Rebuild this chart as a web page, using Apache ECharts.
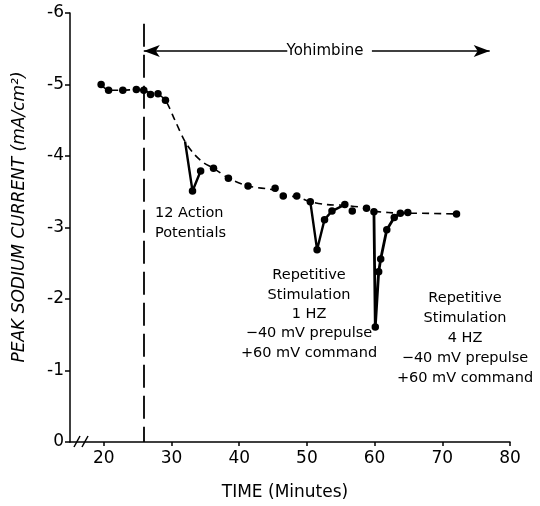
<!DOCTYPE html>
<html><head><meta charset="utf-8">
<script src="https://cdn.jsdelivr.net/npm/echarts@6/dist/echarts.min.js"></script>
<style>html,body{margin:0;padding:0;background:#fff}#c{width:540px;height:506px}</style>
</head><body><div id="c"></div>
<script>
// ---- data ----
const xTicks = [20, 30, 40, 50, 60, 70, 80];
const yTicks = [-6, -5, -4, -3, -2, -1, 0];
const measuredPoints = [
  [19.6,-5.00],[20.7,-4.92],[22.8,-4.92],[24.8,-4.93],[25.9,-4.92],[26.9,-4.86],[28.0,-4.87],[29.1,-4.78],
  [33.1,-3.51],[34.3,-3.79],[36.2,-3.83],[38.4,-3.69],[41.3,-3.58],[45.3,-3.55],[46.5,-3.44],[48.5,-3.44],[50.5,-3.36],
  [51.5,-2.69],[52.6,-3.11],[53.7,-3.23],[55.6,-3.32],[56.7,-3.23],[58.8,-3.27],[59.9,-3.22],
  [60.1,-1.61],[60.6,-2.38],[60.9,-2.56],[61.8,-2.97],[62.9,-3.14],[63.8,-3.20],[64.9,-3.21],[72.1,-3.19]
];
const trendCurve = [
  [19.6,-5.00],[20.7,-4.92],[22.8,-4.92],[24.8,-4.93],[25.9,-4.92],[26.9,-4.88],[28.0,-4.86],[29.1,-4.78],
  [30.5,-4.50],[32.0,-4.20],[33.3,-4.03],[34.8,-3.90],[36.2,-3.83],[38.4,-3.69],[41.3,-3.58],[45.3,-3.52],
  [46.5,-3.44],[48.5,-3.43],[50.5,-3.36],[53.0,-3.32],[55.6,-3.31],[58.8,-3.27],[59.9,-3.23],[62.0,-3.21],
  [63.8,-3.20],[64.9,-3.20],[72.1,-3.19]
];
const dip12AP = [[32.0,-4.20],[33.1,-3.51],[34.3,-3.79]];
const dip1Hz = [[50.5,-3.36],[51.5,-2.69],[52.6,-3.11],[53.7,-3.23],[55.6,-3.32]];
const dip4Hz = [[59.9,-3.22],[60.1,-1.61],[60.6,-2.38],[60.9,-2.56],[61.8,-2.97],[62.9,-3.14],[63.8,-3.20]];
const drugStart = 25.9;      // yohimbine added (minutes)
const drugLineTop = -5.85;
const drugArrowY = -5.47;
const drugArrowEnd = 77.0;
const drugArrowGap = [47.1, 59.6];

// ---- chart ----
const FONT = 'DejaVu Sans';
const chart = echarts.init(document.getElementById('c'), null, {renderer: 'canvas'});
const dipStyle = {color: '#000', width: 2.4};
chart.setOption({
  animation: false,
  backgroundColor: '#fff',
  grid: {left: 70, right: 30, top: 13, bottom: 64},
  xAxis: {
    type: 'value', min: 15, max: 80,
    axisLine: {show: true, lineStyle: {color: '#000', width: 1.5}},
    axisTick: {show: true, length: 4, customValues: xTicks, lineStyle: {color: '#000', width: 1.5}},
    axisLabel: {customValues: xTicks, color: '#000', fontFamily: FONT, fontSize: 17, margin: 8},
    splitLine: {show: false}
  },
  yAxis: {
    type: 'value', min: -6, max: 0, interval: 1, inverse: true,
    axisLine: {show: true, lineStyle: {color: '#000', width: 1.5}},
    axisTick: {show: true, length: 5, lineStyle: {color: '#000', width: 1.5}},
    axisLabel: {color: '#000', fontFamily: FONT, fontSize: 17, margin: 6,
      formatter: v => yTicks.includes(v) ? String(v) : ''},
    splitLine: {show: false}
  },
  series: [
    {type: 'line', data: trendCurve, smooth: 0.3, showSymbol: false, silent: true,
     lineStyle: {color: '#000', width: 1.6, type: [7, 5]}},
    {type: 'line', data: dip12AP, showSymbol: false, silent: true, lineStyle: dipStyle},
    {type: 'line', data: dip1Hz, showSymbol: false, silent: true, lineStyle: dipStyle},
    {type: 'line', data: dip4Hz, showSymbol: false, silent: true, lineStyle: {color: '#000', width: 2.8}},
    {type: 'scatter', data: measuredPoints, symbolSize: 7.5, itemStyle: {color: '#000', opacity: 1}, silent: true,
     markLine: {
       silent: true, animation: false, label: {show: false},
       symbol: ['none', 'none'],
       lineStyle: {color: '#000', width: 1.5, type: 'solid'},
       data: [
         [{coord: [drugStart, drugLineTop], lineStyle: {type: [23, 8], width: 1.8, color: '#000'}},
          {coord: [drugStart, 0]}],
         [{coord: [drugStart, drugArrowY], symbol: 'arrow', symbolSize: [9, 16]},
          {coord: [drugArrowGap[0], drugArrowY], symbol: 'none'}],
         [{coord: [drugArrowGap[1], drugArrowY], symbol: 'none'},
          {coord: [drugArrowEnd, drugArrowY], symbol: 'arrow', symbolSize: [9, 16]}]
       ]
     }}
  ],
  graphic: [
    {type: 'text', x: 325, y: 51, style: {text: 'Yohimbine', font: '15px ' + FONT, fill: '#000', textAlign: 'center', textVerticalAlign: 'middle'}},
    {type: 'text', x: 155, y: 203, style: {text: '12 Action\nPotentials', font: '14.5px ' + FONT, lineHeight: 20, fill: '#000', textAlign: 'left', textVerticalAlign: 'top'}},
    {type: 'text', x: 309, y: 266, style: {text: 'Repetitive\nStimulation\n1 HZ\n\u221240 mV prepulse\n+60 mV command', font: '14.5px ' + FONT, lineHeight: 19.3, fill: '#000', textAlign: 'center', textVerticalAlign: 'top'}},
    {type: 'text', x: 465, y: 288, style: {text: 'Repetitive\nStimulation\n4 HZ\n\u221240 mV prepulse\n+60 mV command', font: '14.5px ' + FONT, lineHeight: 20, fill: '#000', textAlign: 'center', textVerticalAlign: 'top'}},
    {type: 'text', x: 285, y: 493, style: {text: 'TIME (Minutes)', font: '17px ' + FONT, fill: '#000', textAlign: 'center', textVerticalAlign: 'middle'}},
    {type: 'text', x: 20, y: 217, rotation: Math.PI / 2, style: {text: 'PEAK SODIUM CURRENT (mA/cm\u00b2)', font: 'italic 17px ' + FONT, fill: '#000', textAlign: 'center', textVerticalAlign: 'middle'}},
    {type: 'line', shape: {x1: 74, y1: 447, x2: 80, y2: 436}, style: {stroke: '#000', lineWidth: 1.5}},
    {type: 'line', shape: {x1: 82, y1: 447, x2: 88, y2: 436}, style: {stroke: '#000', lineWidth: 1.5}}
  ]
});
</script></body></html>
